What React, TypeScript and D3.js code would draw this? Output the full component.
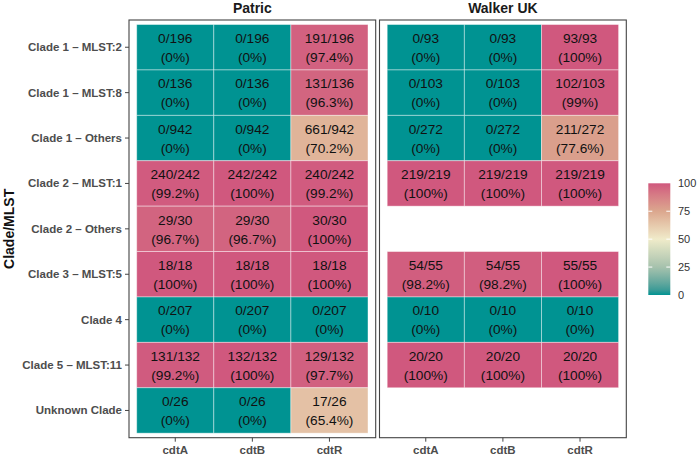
import React from "react";
import * as d3 from "d3";

const rows = [
  "Clade 1 – MLST:2",
  "Clade 1 – MLST:8",
  "Clade 1 – Others",
  "Clade 2 – MLST:1",
  "Clade 2 – Others",
  "Clade 3 – MLST:5",
  "Clade 4",
  "Clade 5 – MLST:11",
  "Unknown Clade",
];
const genes = ["cdtA", "cdtB", "cdtR"];
const panels = ["Patric", "Walker UK"];

// counts per row: [cdtA, cdtB, cdtR]
const patricCounts: (number[] | null)[] = [
  [0, 0, 191],
  [0, 0, 131],
  [0, 0, 661],
  [240, 242, 240],
  [29, 29, 30],
  [18, 18, 18],
  [0, 0, 0],
  [131, 132, 129],
  [0, 0, 17],
];
const patricTotals = [196, 136, 942, 242, 30, 18, 207, 132, 26];

const walkerCounts: (number[] | null)[] = [
  [0, 0, 93],
  [0, 0, 102],
  [0, 0, 211],
  [219, 219, 219],
  null,
  [54, 54, 55],
  [0, 0, 0],
  [20, 20, 20],
  null,
];
const walkerTotals = [93, 103, 272, 219, 0, 55, 10, 20, 0];

const legendTicks = [0, 25, 50, 75, 100];
const paletteStops = [0, 25, 50, 75, 100];
const paletteColors = ["#009392", "#a6c2ad", "#f0ebca", "#dba78e", "#d0587e"];

const W = 700;
const H = 458;
const FONT = "'Liberation Sans', Arial, Helvetica, sans-serif";

const panelTop = 20;
const panelBottom = 437.7;
const panelX = [
  [129, 375.7],
  [379.5, 626.3],
];

const color = d3
  .scaleLinear<string>()
  .domain(paletteStops)
  .range(paletteColors)
  .interpolate(d3.interpolateLab);

function fmtPct(v: number) {
  const r = Math.round(v * 10) / 10;
  return `(${r}%)`;
}

export default function App() {
  const y = d3
    .scaleBand<string>()
    .domain(rows)
    .range([panelTop, panelBottom])
    .paddingInner(0)
    .paddingOuter(0.1);

  const data = [
    { counts: patricCounts, totals: patricTotals },
    { counts: walkerCounts, totals: walkerTotals },
  ];

  const legX = 648.3;
  const legW = 22;
  const legScale = d3.scaleLinear().domain([0, 100]).range([295, 183.3]);
  const gradStops = d3.range(0, 101, 5);

  return (
    <svg width={W} height={H} style={{ position: "absolute", left: 0, top: 0 }} fontFamily={FONT}>
      <defs>
        <linearGradient id="leg" x1="0" y1="1" x2="0" y2="0">
          {gradStops.map((s) => (
            <stop key={s} offset={`${s}%`} stopColor={color(s)} />
          ))}
        </linearGradient>
      </defs>
      <rect x={0} y={0} width={W} height={H} fill="white" />

      {panels.map((p, pi) => {
        const [x0, x1] = panelX[pi];
        const x = d3.scaleBand<string>().domain(genes).range([x0, x1]).paddingInner(0).paddingOuter(0.1);
        const { counts, totals } = data[pi];
        return (
          <g key={p}>
            <text
              x={(x0 + x1) / 2}
              y={13}
              textAnchor="middle"
              fontSize={14}
              fontWeight="bold"
              fill="#1a1a1a"
            >
              {p}
            </text>
            {rows.map((r, ri) => {
              const c = counts[ri];
              if (!c) return null;
              return genes.map((g, gi) => {
                const v = (c[gi] / totals[ri]) * 100;
                const cx = (x(g) as number) + x.bandwidth() / 2;
                const cy = (y(r) as number) + y.bandwidth() / 2;
                return (
                  <g key={r + g}>
                    <rect
                      x={x(g)}
                      y={y(r)}
                      width={x.bandwidth()}
                      height={y.bandwidth()}
                      fill={color(v)}
                      stroke="rgba(255,255,255,0.45)"
                      strokeWidth={0.9}
                    />
                    <text x={cx} y={cy - 4.3} textAnchor="middle" fontSize={13.7} fill="#111">
                      {`${c[gi]}/${totals[ri]}`}
                    </text>
                    <text x={cx} y={cy + 14.8} textAnchor="middle" fontSize={13.7} fill="#111">
                      {fmtPct(v)}
                    </text>
                  </g>
                );
              });
            })}
            <rect
              x={x0}
              y={panelTop}
              width={x1 - x0}
              height={panelBottom - panelTop}
              fill="none"
              stroke="#444"
              strokeWidth={1.1}
            />
            {genes.map((g) => {
              const gx = (x(g) as number) + x.bandwidth() / 2;
              return (
                <g key={g}>
                  <line x1={gx} x2={gx} y1={panelBottom} y2={panelBottom + 4} stroke="#444" strokeWidth={1} />
                  <text x={gx} y={454} textAnchor="middle" fontSize={11.5} fontWeight="bold" fill="#4d4d4d">
                    {g}
                  </text>
                </g>
              );
            })}
          </g>
        );
      })}

      {rows.map((r) => {
        const cy = (y(r) as number) + y.bandwidth() / 2;
        return (
          <g key={r}>
            <line x1={125} x2={129} y1={cy} y2={cy} stroke="#444" strokeWidth={1} />
            <text x={122} y={cy + 4} textAnchor="end" fontSize={11.5} fontWeight="bold" fill="#4d4d4d">
              {r}
            </text>
          </g>
        );
      })}

      <text
        transform={`translate(14, ${(panelTop + panelBottom) / 2}) rotate(-90)`}
        textAnchor="middle"
        fontSize={14}
        fontWeight="bold"
        fill="#111"
      >
        Clade/MLST
      </text>

      <rect x={legX} y={legScale(100)} width={legW} height={legScale(0) - legScale(100)} fill="url(#leg)" />
      {legendTicks.map((t) => (
        <g key={t}>
          {t > 0 && t < 100 && (
            <>
              <line x1={legX} x2={legX + 4} y1={legScale(t)} y2={legScale(t)} stroke="white" strokeWidth={1} />
              <line x1={legX + legW - 4} x2={legX + legW} y1={legScale(t)} y2={legScale(t)} stroke="white" strokeWidth={1} />
            </>
          )}
          <text x={678} y={legScale(t) + 4} fontSize={11} fill="#333">
            {t}
          </text>
        </g>
      ))}
    </svg>
  );
}
